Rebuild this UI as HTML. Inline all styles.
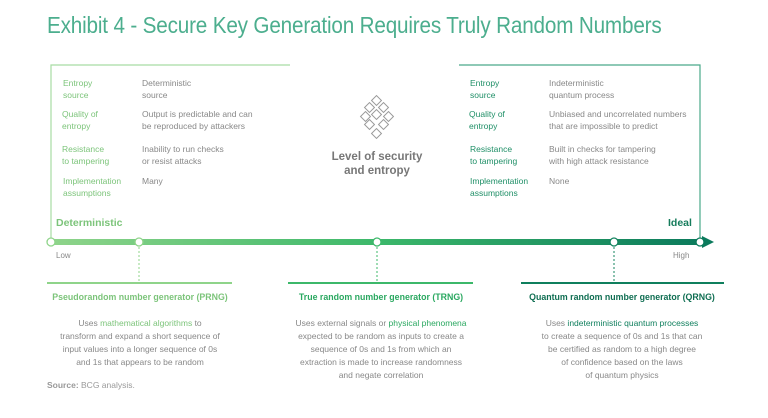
<!DOCTYPE html>
<html><head><meta charset="utf-8"><style>
body{margin:0;background:#fff;width:768px;height:418px;overflow:hidden;position:relative;font-family:"Liberation Sans",sans-serif}
.a{position:absolute;white-space:nowrap}
.t{font-size:8.5px;line-height:12px}
.lg{color:#7cc47a}
.dg{color:#1f8f67}
.gr{color:#888}
.c{text-align:center;transform:translateX(-50%)}
</style></head><body>
<div class="a" style="left:47px;top:12px;font-size:23px;color:#4cae8e;transform:scaleX(0.9);transform-origin:left top;letter-spacing:-0.2px">Exhibit 4 - Secure Key Generation Requires Truly Random Numbers</div>

<svg class="a" style="left:0;top:0" width="768" height="418">
<defs><linearGradient id="g" x1="0" x2="1"><stop offset="0" stop-color="#8fd48a"/><stop offset="0.5" stop-color="#3cb86a"/><stop offset="1" stop-color="#0b7a5c"/></linearGradient></defs>
<path d="M51 242V65H290" fill="none" stroke="#a8dca4" stroke-width="1.2"/>
<path d="M459 65H700V242" fill="none" stroke="#4aa98a" stroke-width="1.2"/>
<rect x="51" y="239" width="652" height="6" fill="url(#g)"/>
<polygon points="702,236 714,242 702,248" fill="#0b7a5c"/>
<g fill="#fff" stroke-width="1.3">
<circle cx="51" cy="242" r="4" stroke="#8fd48a"/>
<circle cx="139" cy="242" r="4" stroke="#8fd48a"/>
<circle cx="377" cy="242" r="4" stroke="#3cb86a"/>
<circle cx="614" cy="242" r="4" stroke="#14845f"/>
<circle cx="700" cy="242" r="4" stroke="#0b7a5c"/>
</g>
<g stroke-dasharray="2,2" stroke-width="1">
<line x1="139" y1="247" x2="139" y2="283" stroke="#8fd48a"/>
<line x1="377" y1="247" x2="377" y2="283" stroke="#3cb86a"/>
<line x1="614" y1="247" x2="614" y2="283" stroke="#14845f"/>
</g>
<rect x="47" y="282" width="185" height="2" fill="#8fd48a"/>
<rect x="288" y="282" width="185" height="2" fill="#3cb86a"/>
<rect x="521" y="282" width="203" height="2" fill="#0f7f5d"/>
<g fill="none" stroke="#999" stroke-width="1">
<rect x="373" y="97" width="7" height="7" transform="rotate(45 376.5 100.5)"/>
<rect x="366" y="104" width="7" height="7" transform="rotate(45 369.5 107.5)"/>
<rect x="380" y="104" width="7" height="7" transform="rotate(45 383.5 107.5)"/>
<rect x="373" y="111" width="7" height="7" transform="rotate(45 376.5 114.5)"/>
<rect x="362" y="113" width="7" height="7" transform="rotate(45 365.5 116.5)"/>
<rect x="385" y="113" width="7" height="7" transform="rotate(45 388.5 116.5)"/>
<rect x="366" y="121" width="7" height="7" transform="rotate(45 369.5 124.5)"/>
<rect x="380" y="121" width="7" height="7" transform="rotate(45 383.5 124.5)"/>
<rect x="373" y="130" width="7" height="7" transform="rotate(45 376.5 133.5)"/>
</g>
</svg>

<div class="a t lg" style="left:63px;top:77px">Entropy<br>source</div>
<div class="a t gr" style="left:142px;top:77px">Deterministic<br>source</div>
<div class="a t lg" style="left:62px;top:108px">Quality of<br>entropy</div>
<div class="a t gr" style="left:142px;top:108px">Output is predictable and can<br>be reproduced by attackers</div>
<div class="a t lg" style="left:62px;top:143px">Resistance<br>to tampering</div>
<div class="a t gr" style="left:142px;top:143px">Inability to run checks<br>or resist attacks</div>
<div class="a t lg" style="left:63px;top:175px">Implementation<br>assumptions</div>
<div class="a t gr" style="left:142px;top:175px">Many</div>
<div class="a lg" style="left:56px;top:217px;font-size:10.5px;font-weight:bold">Deterministic</div>
<div class="a gr" style="left:56px;top:251px;font-size:8px">Low</div>

<div class="a c" style="left:377px;top:150px;font-size:11.5px;line-height:14px;color:#777;font-weight:bold">Level of security<br>and entropy</div>

<div class="a t dg" style="left:470px;top:77px">Entropy<br>source</div>
<div class="a t gr" style="left:549px;top:77px">Indeterministic<br>quantum process</div>
<div class="a t dg" style="left:469px;top:108px">Quality of<br>entropy</div>
<div class="a t gr" style="left:549px;top:108px">Unbiased and uncorrelated numbers<br>that are impossible to predict</div>
<div class="a t dg" style="left:470px;top:143px">Resistance<br>to tampering</div>
<div class="a t gr" style="left:549px;top:143px">Built in checks for tampering<br>with high attack resistance</div>
<div class="a t dg" style="left:470px;top:175px">Implementation<br>assumptions</div>
<div class="a t gr" style="left:549px;top:175px">None</div>
<div class="a dg" style="left:668px;top:217px;font-size:10.5px;font-weight:bold;color:#167c5c">Ideal</div>
<div class="a gr" style="left:673px;top:251px;font-size:8px">High</div>

<div class="a c lg" style="left:140px;top:292px;font-size:8.8px;font-weight:bold">Pseudorandom number generator (PRNG)</div>
<div class="a c t gr" style="left:140px;top:317px;line-height:13px">Uses <span class="lg">mathematical algorithms</span> to<br>transform and expand a short sequence of<br>input values into a longer sequence of 0s<br>and 1s that appears to be random</div>
<div class="a c" style="left:381px;top:292px;font-size:8.8px;font-weight:bold;color:#2aa860">True random number generator (TRNG)</div>
<div class="a c t gr" style="left:381px;top:317px;line-height:13px">Uses external signals or <span style="color:#2aa860">physical phenomena</span><br>expected to be random as inputs to create a<br>sequence of 0s and 1s from which an<br>extraction is made to increase randomness<br>and negate correlation</div>
<div class="a c" style="left:622px;top:292px;font-size:8.8px;font-weight:bold;color:#0f6e52">Quantum random number generator (QRNG)</div>
<div class="a c t gr" style="left:622px;top:317px;line-height:13px">Uses <span style="color:#0f7f5d">indeterministic quantum processes</span><br>to create a sequence of 0s and 1s that can<br>be certified as random to a high degree<br>of confidence based on the laws<br>of quantum physics</div>

<div class="a" style="left:47px;top:380px;font-size:8.5px;color:#999"><b>Source:</b> BCG analysis.</div>
</body></html>
